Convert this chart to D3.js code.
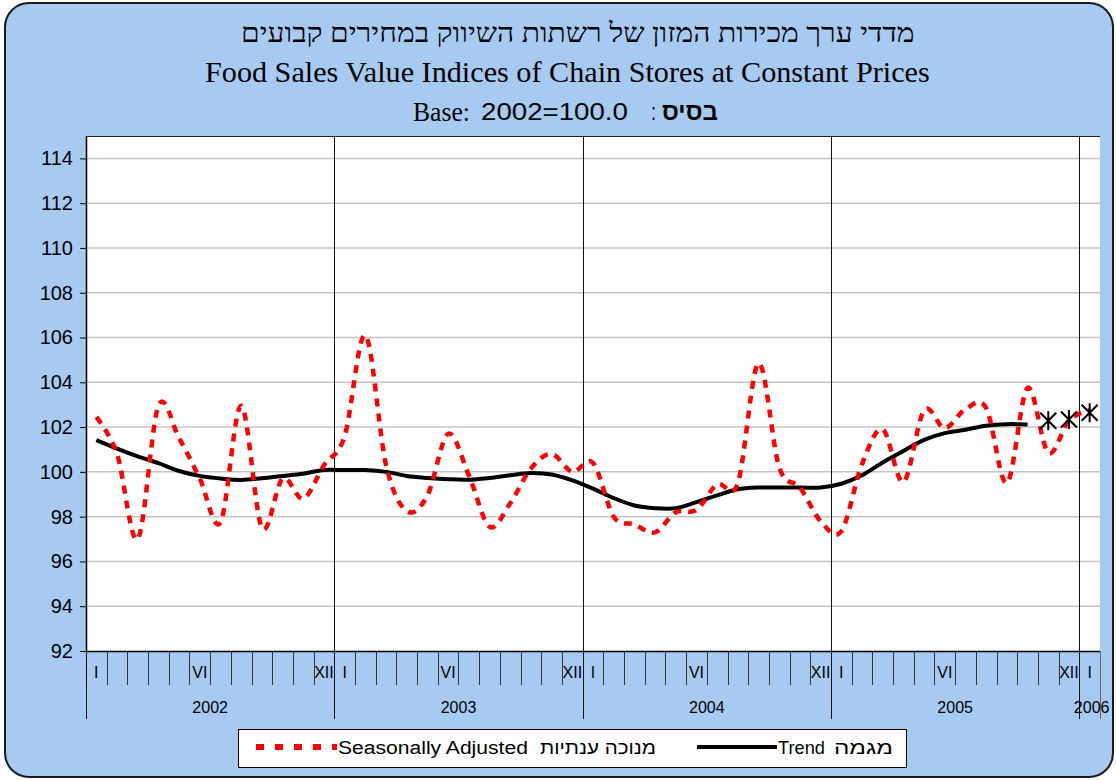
<!DOCTYPE html>
<html>
<head>
<meta charset="utf-8">
<script src="https://cdn.jsdelivr.net/npm/d3@7.9.0/dist/d3.min.js"></script>
<style>
  body { margin: 0; background: #fff; }
  svg { display: block; }
</style>
</head>
<body>
<svg id="chart" width="1116" height="780"></svg>
<script>
// monthly values, Jan 2002 .. Jan 2006
const years = ["2002", "2003", "2004", "2005", "2006"];
const monthLabels = ["I", "", "", "", "", "VI", "", "", "", "", "", "XII"];
const yTicks = [92, 94, 96, 98, 100, 102, 104, 106, 108, 110, 112, 114];

const adjusted = [
  102.45, 100.8, 97.0, 102.95, 101.5, 99.7, 97.75, 102.95, 97.5, 99.7, 98.8, 100.3,
  101.6, 106.1, 100.3, 98.25, 98.95, 101.7, 99.85, 97.55, 98.6, 100.15, 100.8, 100.0,
  100.4, 98.0, 97.65, 97.3, 98.2, 98.3, 99.45, 99.5, 104.85, 100.2, 99.3, 97.8,
  97.35, 100.35, 101.9, 99.55, 102.75, 101.95, 102.8, 102.85, 99.5, 103.75, 100.85, 102.3,
  102.75
];
const trend = [
  101.42, 101.04, 100.69, 100.39, 100.04, 99.82, 99.7, 99.64, 99.72, 99.82, 99.92, 100.08,
  100.08, 100.08, 100.0, 99.82, 99.73, 99.67, 99.65, 99.73, 99.85, 99.95, 99.88, 99.62,
  99.25, 98.83, 98.5, 98.38, 98.38, 98.65, 98.95, 99.22, 99.3, 99.3, 99.3, 99.3,
  99.47, 99.85, 100.42, 100.93, 101.43, 101.73, 101.88, 102.06, 102.13, 102.12
];
// provisional trend, Nov 2005 .. Jan 2006 (markers only)
const trendProvisional = [102.28, 102.34, 102.64];
const provisionalStart = 46;

const nMonths = adjusted.length;
const svg = d3.select("#chart");
const plotL = 86, plotR = 1100, plotT = 136, plotB = 651;

const x = d3.scaleLinear().domain([0, nMonths]).range([plotL, plotR]);
const y = d3.scaleLinear().domain([92, 115]).range([plotB, plotT]);

// frame
svg.append("rect").attr("x", 5).attr("y", 3).attr("width", 1108).attr("height", 774)
  .attr("rx", 24).attr("fill", "#A6CAF0").attr("stroke", "#1a1a1a").attr("stroke-width", 2);

// plot area
svg.append("rect").attr("x", plotL).attr("y", plotT).attr("width", plotR - plotL).attr("height", plotB - plotT)
  .attr("fill", "#fff");

// gridlines
svg.append("g").selectAll("line").data(yTicks.filter(d => d > 92)).join("line")
  .attr("x1", plotL).attr("x2", plotR)
  .attr("y1", d => y(d)).attr("y2", d => y(d))
  .attr("stroke", "#c4c4c4").attr("stroke-width", 1.5);

// month ticks below axis
const monthIdx = d3.range(1, nMonths).filter(i => i % 12 !== 0);
svg.append("g").selectAll("line").data(monthIdx).join("line")
  .attr("x1", i => Math.round(x(i)) + 0.5).attr("x2", i => Math.round(x(i)) + 0.5)
  .attr("y1", plotB).attr("y2", 685)
  .attr("stroke", "#333").attr("stroke-width", 1);

// year separators
const yearIdx = d3.range(0, nMonths + 1, 12).concat([nMonths]);
svg.append("g").selectAll("line").data(yearIdx).join("line")
  .attr("x1", i => Math.round(x(i)) + 0.5).attr("x2", i => Math.round(x(i)) + 0.5)
  .attr("y1", i => (i === 0 || i === nMonths) ? plotB : plotT).attr("y2", 719)
  .attr("stroke", i => i === nMonths ? "#666" : "#111").attr("stroke-width", 1);

// month labels
const mLab = d3.range(nMonths).map(i => ({ i, t: monthLabels[i % 12] })).filter(d => d.t);
svg.append("g").selectAll("text").data(mLab).join("text")
  .attr("x", d => x(d.i + 0.5)).attr("y", 678)
  .attr("text-anchor", "middle")
  .style("font", "16px 'Liberation Sans', Arial, sans-serif")
  .text(d => d.t);

// year labels
svg.append("g").selectAll("text").data(years).join("text")
  .attr("x", (d, k) => k < 4 ? x(k * 12 + 6) : x(48.5) + 2)
  .attr("y", 713)
  .attr("text-anchor", "middle")
  .style("font", "16px 'Liberation Sans', Arial, sans-serif")
  .text(d => d);

// y axis
const yAxis = svg.append("g").attr("transform", `translate(${plotL},0)`)
  .call(d3.axisLeft(y).tickValues(yTicks).tickSize(6).tickSizeOuter(0).tickFormat(d3.format("d")));
yAxis.select(".domain").remove();
yAxis.selectAll(".tick line").attr("stroke", "#000");
yAxis.selectAll(".tick text")
  .attr("x", -13)
  .style("font", "20px 'Liberation Sans', Arial, sans-serif")
  .attr("fill", "#000");

// axis lines
svg.append("line").attr("x1", plotL + 0.5).attr("x2", plotL + 0.5).attr("y1", plotT).attr("y2", plotB)
  .attr("stroke", "#000").attr("stroke-width", 1.5);
svg.append("line").attr("x1", plotL).attr("x2", plotR).attr("y1", plotB + 0.5).attr("y2", plotB + 0.5)
  .attr("stroke", "#000").attr("stroke-width", 1.5);
svg.append("line").attr("x1", plotL).attr("x2", plotR).attr("y1", plotT + 0.5).attr("y2", plotT + 0.5)
  .attr("stroke", "#222").attr("stroke-width", 1);

// series
const line = d3.line()
  .x((d, i) => x(i + 0.5))
  .y(d => y(d))
  .curve(d3.curveCardinal.tension(0));

svg.append("path").datum(trend)
  .attr("d", line)
  .attr("fill", "none").attr("stroke", "#000").attr("stroke-width", 4)
  .attr("stroke-linejoin", "round");

svg.append("path").datum(adjusted)
  .attr("d", line)
  .attr("fill", "none").attr("stroke", "#ff0000").attr("stroke-width", 4.5)
  .attr("stroke-dasharray", "8,7");

const star = "M-8,-8L8,8M-8,8L8,-8M0,-9.5L0,9.5";
svg.append("g").selectAll("path").data(trendProvisional).join("path")
  .attr("transform", (d, k) => `translate(${x(provisionalStart + k + 0.5)},${y(d)})`)
  .attr("d", star)
  .attr("fill", "none").attr("stroke", "#000").attr("stroke-width", 2);

// titles
function fitText(str, x0, x1, baseline, font) {
  const t = svg.append("text").attr("x", 0).attr("y", 0).style("font", font).text(str);
  const w = t.node().getComputedTextLength();
  t.attr("transform", `translate(${x0},${baseline}) scale(${(x1 - x0) / w},1)`);
  return t;
}
fitText("מדדי ערך מכירות המזון של רשתות השיווק  במחירים קבועים", 241, 915, 42,
  "27px 'Liberation Serif', 'DejaVu Serif', serif");
fitText("Food Sales Value Indices of Chain Stores at Constant Prices", 205, 930, 82,
  "29px 'Liberation Serif', 'Times New Roman', serif");
fitText("Base:", 413, 470, 121, "27px 'Liberation Serif', 'Times New Roman', serif");
fitText("2002=100.0", 481, 628, 120, "24px 'Liberation Sans Narrow', 'Liberation Sans', sans-serif");
fitText(":", 651, 656, 120, "24px 'Liberation Sans', sans-serif");
fitText("בסיס", 662, 718, 120, "bold 24px 'Liberation Sans', 'DejaVu Sans', sans-serif");

// legend
const lg = svg.append("g");
lg.append("rect").attr("x", 238.5).attr("y", 729.5).attr("width", 668).attr("height", 38)
  .attr("fill", "#fff").attr("stroke", "#000").attr("stroke-width", 1);
lg.append("line").attr("x1", 256).attr("x2", 337).attr("y1", 747).attr("y2", 747)
  .attr("stroke", "#ff0000").attr("stroke-width", 6).attr("stroke-dasharray", "8,11");
fitText("Seasonally Adjusted", 338, 528, 754, "19px 'Liberation Sans', Arial, sans-serif");
fitText("מנוכה ענתיות", 540, 656, 754, "19px 'Liberation Sans', 'DejaVu Sans', sans-serif");
lg.append("line").attr("x1", 697).attr("x2", 777).attr("y1", 747).attr("y2", 747)
  .attr("stroke", "#000").attr("stroke-width", 4);
fitText("Trend", 778, 825, 754, "19px 'Liberation Sans', Arial, sans-serif");
fitText("מגמה", 834, 893, 754, "19px 'Liberation Sans', 'DejaVu Sans', sans-serif");
</script>
</body>
</html>
